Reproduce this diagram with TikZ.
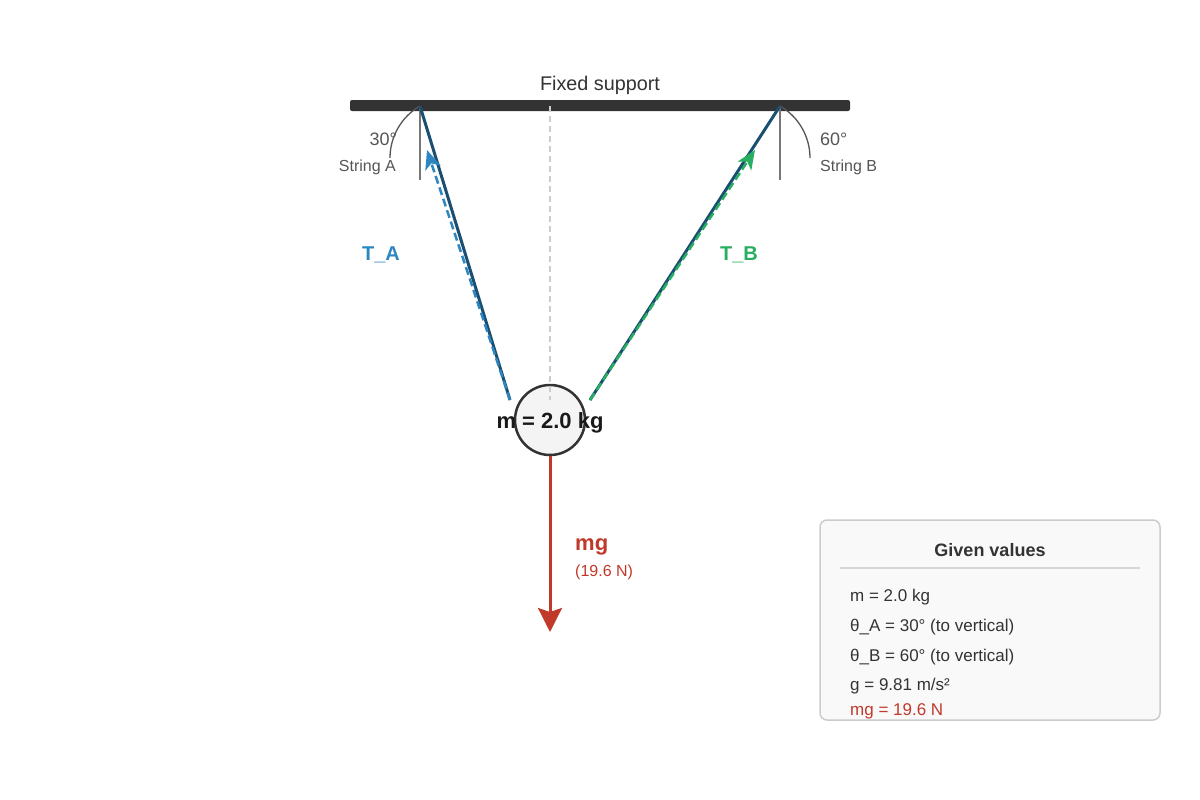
\documentclass[tikz,border=0pt]{standalone}
\usepackage{fontspec}
\setmainfont{Liberation Sans}
\usetikzlibrary{arrows.meta}
\definecolor{ink}{HTML}{333333}
\definecolor{lbl}{HTML}{555555}
\definecolor{refgray}{HTML}{777777}
\definecolor{cline}{HTML}{CCCCCC}
\definecolor{strc}{HTML}{1B4F72}
\definecolor{tablue}{HTML}{2E86C1}
\definecolor{tbgreen}{HTML}{27AE60}
\definecolor{mgred}{HTML}{C0392B}
\definecolor{boxfill}{HTML}{F9F9F9}
\definecolor{boxline}{HTML}{CCCCCC}
\definecolor{massfill}{HTML}{F4F4F4}
\newcommand{\fs}[1]{\fontsize{#1}{#1}\selectfont}
\tikzset{
  stringline/.style={strc, line width=3pt},
  refline/.style={refgray, line width=1.8pt},
  anglearc/.style={lbl, line width=1.3pt},
  tensarrow/.style={line width=2.5pt, dash pattern=on 8pt off 4pt, -{Stealth[length=19pt,width=16pt,inset=5pt]}},
  txt/.style={inner sep=0pt, anchor=base},
}
\begin{document}
\begin{tikzpicture}[x=1pt,y=-1pt]
\useasboundingbox (0,0) rectangle (1200,800);
% support
\fill[ink, rounded corners=2pt] (350,100) rectangle (850,111);
\node[txt, text=ink] (fixed) at (600,90) {\fs{19.8}Fixed support};
% anchors
\coordinate (A) at (420,106);
\coordinate (B) at (780,106);
\coordinate (Aend) at (510,400);
\coordinate (Bend) at (590,400);
\coordinate (Atip) at (427,150);
\coordinate (Btip) at (755,150);
\coordinate (Aref) at (420,180);
\coordinate (Bref) at (780,180);
\coordinate (ctop) at (550,106);
\coordinate (cbot) at (550,400);
% reference verticals
\draw[refline] (A) -- (Aref);
\draw[refline] (B) -- (Bref);
% angle arcs
\draw[anglearc] (A) .. controls (401.4,116.7) and (390,136.6) .. (390,158);
\draw[anglearc] (B) .. controls (798.6,116.7) and (810,136.6) .. (810,158);
% angle labels
\node[txt, anchor=base east, text=lbl] (a30) at (397,145.5) {\fs{18}30°};
\node[txt, anchor=base east, text=lbl] (sA) at (396,171) {\fs{16}String A};
\node[txt, anchor=base west, text=lbl] (a60) at (820,145.5) {\fs{18}60°};
\node[txt, anchor=base west, text=lbl] (sB) at (820,171) {\fs{16}String B};
% mass
\node[circle, draw=ink, line width=2.5pt, fill=massfill, minimum size=70pt, inner sep=0pt] (mass) at (550,420) {};
% center line
\draw[cline, line width=1.5pt, dash pattern=on 6pt off 4pt] (ctop) -- (cbot);
% strings
\draw[stringline] (A) -- (Aend);
\draw[stringline] (B) -- (Bend);
% tensions
\draw[tensarrow, tablue] (Aend) -- (Atip);
\draw[tensarrow, tbgreen] (Bend) -- (Btip);
\node[txt, text=tablue] (TA) at (381,260) {\fs{20}\bfseries T\_A};
\node[txt, text=tbgreen] (TB) at (739,260) {\fs{20}\bfseries T\_B};
% mass label
\node[txt, text=black!90] (mlabel) at (550,428) {\fs{22}\bfseries m = 2.0 kg};
% weight
\coordinate (mgtip) at (550,632);
\draw[mgred, line width=3pt, -{Stealth[length=24pt,width=24pt,inset=4pt]}] (mass.south) -- (mgtip);
\node[txt, anchor=base west, text=mgred] (mg) at (575,550) {\fs{22}\bfseries mg};
\node[txt, anchor=base west, text=mgred] (mgN) at (575,576) {\fs{16}(19.6 N)};
% legend box
\draw[boxline, fill=boxfill, line width=1.5pt, rounded corners=7pt] (820,520) rectangle (1160,720);
\node[txt, text=ink] (gv) at (990,556) {\fs{18}\bfseries Given values};
\draw[cline!80, line width=1.5pt] (840,568) -- (1140,568);
\node[txt, anchor=base west, text=ink] (l1) at (850,601) {\fs{17}m = 2.0 kg};
\node[txt, anchor=base west, text=ink] (l2) at (850,631) {\fs{17}θ\_A = 30° (to vertical)};
\node[txt, anchor=base west, text=ink] (l3) at (850,661) {\fs{17}θ\_B = 60° (to vertical)};
\node[txt, anchor=base west, text=ink] (l4) at (850,690) {\fs{17}g = 9.81 m/s²};
\node[txt, anchor=base west, text=mgred] (l5) at (850,715) {\fs{17}mg = 19.6 N};
\end{tikzpicture}
\end{document}
